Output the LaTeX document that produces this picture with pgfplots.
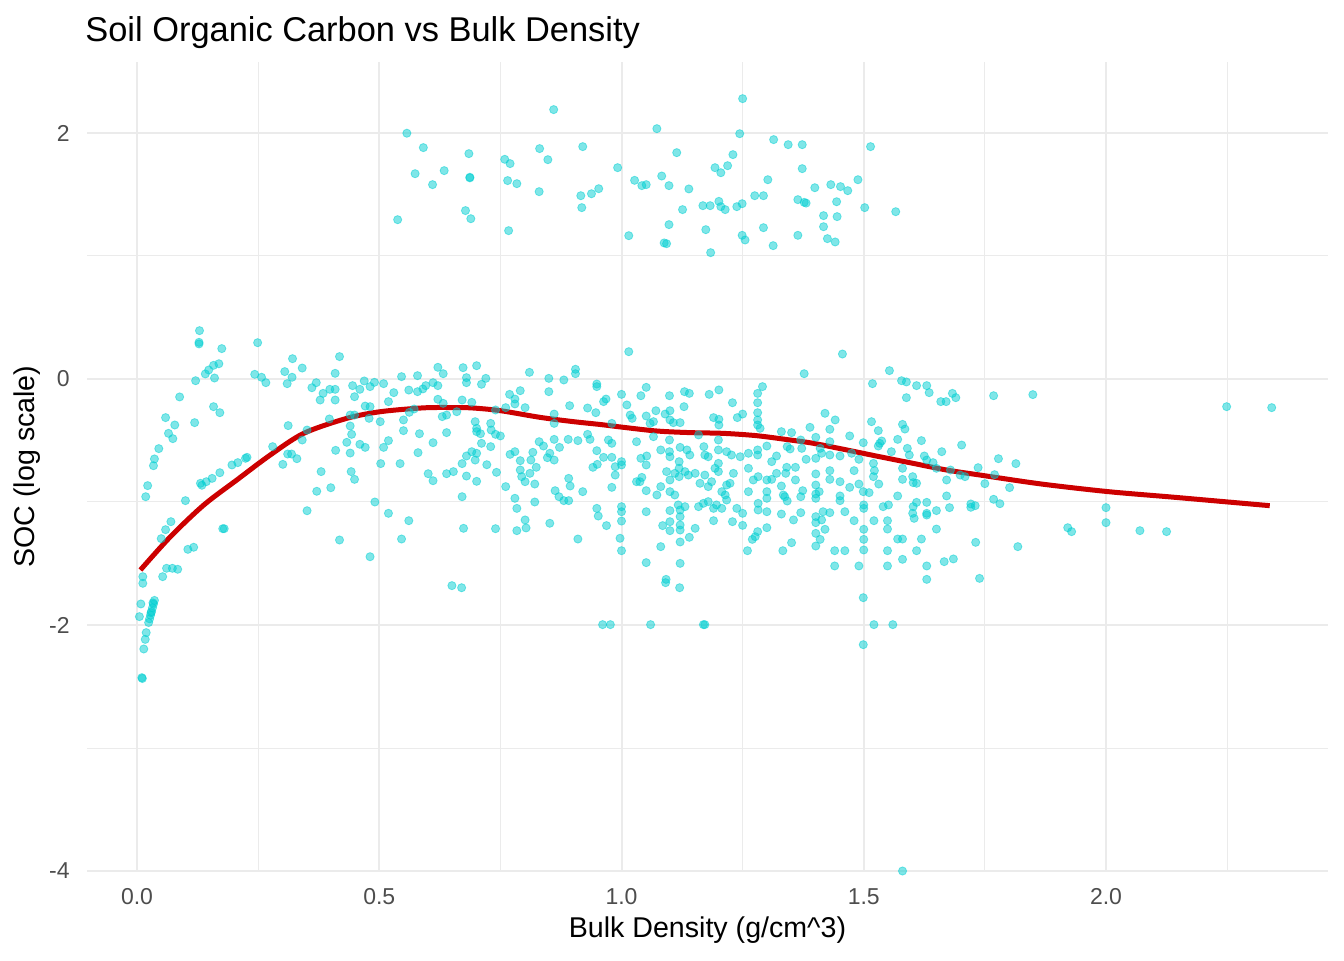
\documentclass[border=0pt]{standalone}
\usepackage{fontspec}
\setmainfont{Liberation Sans}
\usepackage{pgfplots}
\usepackage{pgfplotstable}
\pgfplotsset{compat=1.18}
\definecolor{ptcol}{HTML}{00CED1}
\definecolor{fitcol}{HTML}{CC0000}
\definecolor{gridcol}{HTML}{EBEBEB}
\definecolor{tickcol}{HTML}{4D4D4D}

\pgfplotstableread{
x y
0.557 1.998
0.591 1.881
0.574 1.669
0.610 1.580
0.634 1.694
0.685 1.832
0.687 1.640
0.687 1.635
0.678 1.369
0.689 1.303
0.538 1.295
0.759 1.786
0.770 1.751
0.765 1.613
0.784 1.588
0.767 1.206
0.831 1.873
0.848 1.783
0.830 1.523
0.860 2.190
0.920 1.889
0.916 1.490
0.918 1.393
0.938 1.506
0.953 1.547
0.992 1.718
1.027 1.615
1.042 1.572
1.051 1.580
1.015 1.165
1.073 2.035
1.114 1.840
1.083 1.650
1.098 1.572
1.139 1.545
1.126 1.377
1.098 1.255
1.088 1.106
1.093 1.100
1.168 1.409
1.183 1.409
1.174 1.214
1.184 1.027
1.201 1.444
1.205 1.401
1.214 1.377
1.193 1.718
1.205 1.677
1.219 1.734
1.230 1.824
1.244 1.994
1.250 2.279
1.238 1.401
1.249 1.425
1.249 1.168
1.255 1.130
1.275 1.490
1.293 1.490
1.302 1.620
1.293 1.230
1.313 1.084
1.314 1.946
1.344 1.905
1.373 1.905
1.373 1.710
1.364 1.458
1.377 1.436
1.381 1.430
1.364 1.168
1.399 1.555
1.417 1.328
1.417 1.238
1.425 1.141
1.441 1.114
1.444 1.441
1.445 1.320
1.432 1.580
1.452 1.564
1.467 1.531
1.488 1.620
1.502 1.393
1.514 1.889
1.566 1.360
0.129 0.393
0.128 0.298
0.128 0.285
0.175 0.247
0.169 0.124
0.158 0.111
0.148 0.073
0.141 0.041
0.160 0.008
0.121 -0.014
0.088 -0.146
0.158 -0.225
0.171 -0.274
0.059 -0.314
0.078 -0.374
0.119 -0.355
0.065 -0.442
0.074 -0.485
0.045 -0.566
0.036 -0.650
0.034 -0.705
0.022 -0.867
0.018 -0.957
0.100 -0.989
0.131 -0.848
0.134 -0.864
0.143 -0.835
0.155 -0.808
0.171 -0.762
0.196 -0.699
0.208 -0.680
0.224 -0.645
0.227 -0.637
0.070 -1.160
0.059 -1.225
0.050 -1.298
0.105 -1.385
0.117 -1.368
0.177 -1.217
0.180 -1.217
0.061 -1.539
0.073 -1.539
0.084 -1.547
0.053 -1.607
0.012 -1.607
0.012 -1.661
0.008 -1.829
0.005 -1.932
0.036 -1.80
0.034 -1.83
0.032 -1.86
0.030 -1.89
0.028 -1.92
0.026 -1.95
0.024 -1.98
0.033 -1.82
0.029 -1.90
0.019 -2.062
0.017 -2.117
0.014 -2.195
0.010 -2.428
0.011 -2.435
0.249 0.295
0.243 0.038
0.257 0.014
0.266 -0.030
0.312 -0.379
0.280 -0.550
0.301 -0.694
0.311 -0.610
0.319 -0.610
0.330 -0.648
0.351 -1.071
0.321 0.165
0.341 0.089
0.305 0.060
0.320 0.014
0.310 -0.038
0.418 0.182
0.370 -0.030
0.361 -0.071
0.378 -0.171
0.384 -0.117
0.398 -0.084
0.409 -0.084
0.409 -0.171
0.409 0.046
0.397 -0.325
0.351 -0.415
0.341 -0.496
0.410 -0.580
0.380 -0.753
0.371 -0.913
0.400 -0.884
0.418 -1.309
0.621 0.095
0.632 0.043
0.673 0.092
0.701 0.108
0.680 0.011
0.680 -0.030
0.720 0.005
0.711 -0.043
0.810 0.054
0.850 0.005
0.850 -0.103
0.881 -0.008
0.905 0.079
0.905 0.043
0.949 -0.041
0.949 -0.062
0.445 -0.054
0.460 -0.084
0.469 -0.016
0.481 -0.062
0.490 -0.027
0.509 -0.038
0.449 -0.144
0.530 -0.111
0.546 0.019
0.579 0.027
0.561 -0.090
0.579 -0.103
0.590 -0.081
0.596 -0.054
0.611 -0.030
0.621 -0.054
0.519 -0.184
0.471 -0.220
0.481 -0.225
0.621 -0.165
0.632 -0.198
0.671 -0.171
0.691 -0.190
0.769 -0.125
0.791 -0.095
0.780 -0.163
0.780 -0.203
0.801 -0.233
0.761 -0.233
0.893 -0.217
0.930 -0.236
0.947 -0.274
0.440 -0.293
0.449 -0.293
0.440 -0.382
0.443 -0.450
0.479 -0.320
0.502 -0.347
0.550 -0.333
0.562 -0.271
0.572 -0.244
0.630 -0.306
0.639 -0.293
0.660 -0.266
0.698 -0.347
0.701 -0.401
0.730 -0.361
0.740 -0.252
0.861 -0.285
0.861 -0.361
0.433 -0.515
0.460 -0.531
0.471 -0.556
0.440 -0.602
0.509 -0.556
0.519 -0.501
0.550 -0.420
0.583 -0.445
0.611 -0.518
0.639 -0.436
0.701 -0.428
0.709 -0.445
0.731 -0.415
0.740 -0.450
0.750 -0.463
0.711 -0.523
0.730 -0.550
0.503 -0.688
0.543 -0.688
0.580 -0.599
0.442 -0.753
0.449 -0.816
0.601 -0.770
0.611 -0.827
0.639 -0.770
0.653 -0.753
0.671 -0.688
0.680 -0.626
0.691 -0.591
0.701 -0.604
0.698 -0.659
0.722 -0.697
0.742 -0.759
0.680 -0.789
0.701 -0.832
0.770 -0.613
0.780 -0.591
0.791 -0.664
0.791 -0.740
0.794 -0.794
0.801 -0.835
0.811 -0.767
0.817 -0.596
0.813 -0.659
0.824 -0.718
0.821 -0.854
0.830 -0.510
0.839 -0.545
0.861 -0.491
0.872 -0.556
0.890 -0.491
0.910 -0.501
0.852 -0.604
0.847 -0.640
0.861 -0.659
0.930 -0.450
0.935 -0.491
0.949 -0.583
0.941 -0.718
0.950 -0.694
0.761 -0.875
0.780 -0.970
0.784 -1.052
0.821 -1.000
0.863 -0.908
0.871 -0.957
0.881 -0.989
0.891 -0.989
0.891 -0.808
0.894 -0.870
0.920 -0.916
0.949 -1.052
0.952 -1.114
0.491 -1.000
0.519 -1.092
0.561 -1.152
0.546 -1.301
0.481 -1.445
0.671 -0.957
0.674 -1.214
0.740 -1.217
0.784 -1.233
0.801 -1.146
0.803 -1.211
0.852 -1.173
0.910 -1.301
1.015 0.222
1.000 -0.125
1.051 -0.068
1.040 -0.136
1.099 -0.136
1.130 -0.103
1.140 -0.117
1.181 -0.125
1.201 -0.089
1.229 -0.193
1.281 -0.117
1.291 -0.062
1.281 -0.193
0.963 -0.184
0.968 -0.163
1.011 -0.211
1.018 -0.293
1.022 -0.320
1.051 -0.301
1.071 -0.258
1.059 -0.361
1.066 -0.347
1.090 -0.285
1.100 -0.258
1.100 -0.333
1.107 -0.355
1.121 -0.355
1.129 -0.225
1.190 -0.314
1.201 -0.328
1.201 -0.374
1.239 -0.314
1.250 -0.285
1.281 -0.274
1.281 -0.333
1.281 -0.374
1.286 -0.401
0.980 -0.361
0.973 -0.496
0.980 -0.523
0.963 -0.637
0.980 -0.637
1.031 -0.510
1.066 -0.469
1.081 -0.577
1.099 -0.496
1.100 -0.632
1.099 -0.591
1.121 -0.556
1.135 -0.577
1.141 -0.618
1.159 -0.455
1.170 -0.550
1.172 -0.618
1.179 -0.632
1.200 -0.496
1.200 -0.577
1.217 -0.591
1.227 -0.618
1.245 -0.632
1.262 -0.604
1.281 -0.577
1.281 -0.618
1.300 -0.545
1.320 -0.626
1.310 -0.672
1.000 -0.672
0.987 -0.781
1.000 -0.699
0.987 -0.713
1.040 -0.645
1.052 -0.626
1.051 -0.699
1.031 -0.835
1.038 -0.835
1.042 -0.800
0.980 -0.881
1.051 -0.908
1.073 -0.943
1.081 -0.875
1.093 -0.753
1.100 -0.821
1.100 -0.916
1.110 -0.767
1.119 -0.672
1.119 -0.726
1.119 -0.794
1.131 -0.753
1.138 -0.781
1.152 -0.767
1.162 -0.848
1.172 -0.781
1.179 -0.875
1.186 -0.835
1.193 -0.726
1.200 -0.686
1.200 -0.753
1.207 -0.916
1.214 -0.943
1.217 -0.862
1.224 -0.848
1.231 -0.767
1.110 -0.943
1.117 -1.024
1.121 -1.065
1.131 -1.038
1.159 -1.038
1.169 -1.011
1.179 -0.997
1.190 -1.052
1.196 -1.024
1.207 -1.052
1.217 -0.984
1.238 -1.052
1.250 -1.092
1.262 -0.726
1.272 -0.821
1.262 -0.916
1.282 -0.794
1.300 -0.821
1.310 -0.816
1.300 -0.916
1.300 -0.970
1.282 -1.011
1.282 -1.065
1.300 -1.079
1.320 -0.767
1.334 -0.943
1.000 -1.038
1.000 -1.079
1.000 -1.155
0.969 -1.192
1.051 -1.079
1.100 -1.070
1.100 -1.160
1.100 -1.233
1.085 -1.192
1.121 -1.119
1.121 -1.187
1.121 -1.228
1.140 -1.287
1.152 -1.214
1.121 -1.325
1.081 -1.363
0.997 -1.295
1.000 -1.396
1.051 -1.493
1.121 -1.499
1.092 -1.629
1.190 -1.152
1.229 -1.160
1.250 -1.190
1.300 -1.209
1.281 -1.241
1.276 -1.282
1.270 -1.304
1.260 -1.396
1.456 0.203
1.377 0.043
1.553 0.068
1.518 -0.038
1.578 -0.014
1.588 -0.024
1.609 -0.054
1.630 -0.054
1.635 -0.111
1.588 -0.152
1.659 -0.184
1.670 -0.184
1.683 -0.117
1.690 -0.152
1.420 -0.279
1.441 -0.333
1.430 -0.409
1.389 -0.393
1.330 -0.428
1.351 -0.436
1.516 -0.347
1.530 -0.420
1.580 -0.369
1.585 -0.407
1.471 -0.463
1.401 -0.474
1.342 -0.550
1.348 -0.569
1.370 -0.496
1.372 -0.564
1.430 -0.510
1.410 -0.564
1.413 -0.604
1.499 -0.518
1.533 -0.523
1.537 -0.504
1.530 -0.545
1.570 -0.491
1.619 -0.501
1.661 -0.591
1.702 -0.537
1.557 -0.591
1.590 -0.564
1.594 -0.618
1.625 -0.626
1.630 -0.659
1.643 -0.680
1.650 -0.726
1.679 -0.740
1.699 -0.781
1.709 -0.794
1.736 -0.721
1.381 -0.653
1.401 -0.645
1.430 -0.618
1.451 -0.626
1.475 -0.604
1.490 -0.653
1.341 -0.718
1.359 -0.718
1.339 -0.767
1.401 -0.772
1.430 -0.745
1.430 -0.816
1.480 -0.745
1.520 -0.686
1.522 -0.745
1.520 -0.794
1.580 -0.726
1.580 -0.816
1.601 -0.794
1.602 -0.843
1.609 -0.848
1.671 -0.821
1.330 -0.870
1.359 -0.821
1.401 -0.862
1.401 -0.935
1.408 -0.916
1.451 -0.835
1.451 -0.951
1.451 -0.989
1.471 -0.881
1.490 -0.854
1.499 -0.916
1.511 -0.924
1.531 -0.854
1.337 -0.957
1.342 -0.992
1.370 -0.957
1.374 -0.908
1.401 -0.970
1.570 -0.951
1.630 -1.003
1.609 -1.003
1.602 -1.038
1.671 -0.951
1.677 -1.046
1.721 -1.016
1.721 -1.043
1.500 -1.024
1.500 -1.052
1.540 -1.038
1.551 -1.024
1.601 -1.092
1.604 -1.133
1.630 -1.092
1.630 -1.106
1.650 -1.070
1.330 -1.098
1.370 -1.087
1.355 -1.146
1.401 -1.119
1.401 -1.168
1.401 -1.255
1.416 -1.079
1.430 -1.087
1.413 -1.146
1.420 -1.222
1.410 -1.304
1.401 -1.358
1.461 -1.079
1.480 -1.152
1.500 -1.222
1.500 -1.304
1.500 -1.390
1.521 -1.152
1.549 -1.152
1.549 -1.220
1.549 -1.396
1.570 -1.301
1.580 -1.301
1.619 -1.301
1.650 -1.220
1.609 -1.396
1.580 -1.466
1.549 -1.520
1.630 -1.520
1.666 -1.485
1.685 -1.463
1.731 -1.328
1.630 -1.629
1.333 -1.396
1.351 -1.331
1.440 -1.396
1.461 -1.396
1.440 -1.520
1.490 -1.520
1.768 -0.136
1.849 -0.127
2.249 -0.225
2.342 -0.233
1.778 -0.648
1.814 -0.688
1.770 -0.778
1.750 -0.851
1.801 -0.883
1.768 -0.978
1.781 -1.014
1.730 -1.030
1.921 -1.209
1.929 -1.241
2.000 -1.046
2.000 -1.168
2.070 -1.233
2.125 -1.241
1.818 -1.363
1.739 -1.621
0.650 -1.680
0.670 -1.697
0.961 -1.997
0.977 -1.997
1.060 -1.997
1.091 -1.656
1.120 -1.697
1.169 -1.997
1.172 -1.997
1.499 -1.778
1.499 -2.160
1.521 -1.997
1.560 -1.997
1.580 -4.000
}\soc

\pgfplotstableread{
x y
0.007 -1.553
0.069 -1.282
0.138 -1.024
0.206 -0.821
0.275 -0.618
0.344 -0.442
0.433 -0.320
0.502 -0.266
0.590 -0.235
0.650 -0.232
0.690 -0.235
0.749 -0.257
0.832 -0.312
0.901 -0.347
0.956 -0.370
1.004 -0.393
1.073 -0.423
1.141 -0.436
1.210 -0.442
1.279 -0.461
1.348 -0.496
1.396 -0.523
1.465 -0.577
1.533 -0.632
1.602 -0.686
1.671 -0.740
1.740 -0.781
1.867 -0.854
2.005 -0.916
2.142 -0.962
2.338 -1.030
}\fit

\begin{document}
\begin{tikzpicture}
\useasboundingbox (-43.5pt,-44.5pt) rectangle (628.5pt,435.5pt);
\begin{axis}[
  at={(0,0)}, anchor=south west,
  scale only axis, width=620.5pt, height=404.5pt,
  xmin=-0.1032, xmax=2.4582, ymin=-4, ymax=2.577,
  axis line style={draw=none},
  major tick length=0pt, minor tick length=0pt,
  xtick={0,0.5,1,1.5,2}, xticklabels={0.0,0.5,1.0,1.5,2.0},
  ytick={-4,-2,0,2}, yticklabels={-4,-2,0,2},
  minor xtick={0.25,0.75,1.25,1.75,2.25},
  minor ytick={-3,-1,1},
  grid=both,
  major grid style={draw=gridcol, line width=1pt},
  minor grid style={draw=gridcol, line width=0.5pt},
  ticklabel style={font=\fontsize{11.5}{13}\selectfont, text=tickcol, inner sep=0pt},
  xticklabel style={anchor=center, yshift=-13pt},
  yticklabel style={anchor=east, xshift=-8.5pt},
  xlabel={Bulk Density (g/cm\^{}3)},
  ylabel={SOC (log scale)},
  label style={font=\fontsize{14.3}{17}\selectfont, inner sep=0pt},
  xlabel style={at={(axis description cs:0.5,-0.0729)}, anchor=center},
  ylabel style={at={(axis description cs:-0.0483,0.5)}, anchor=center, rotate=0},
  title={Soil Organic Carbon vs Bulk Density},
  title style={at={(axis description cs:-0.0016,1.0111)}, anchor=base west,
    font=\fontsize{17.2}{20}\selectfont, inner sep=0pt},
]
\addplot[only marks, mark=*, mark size=2.05pt,
  mark options={draw=ptcol, fill=ptcol, opacity=0.5, line width=0.4pt}]
  table[x=x, y=y] {\soc};
\addplot[fitcol, line width=2.5pt, smooth] table[x=x, y=y] {\fit};
\end{axis}
\end{tikzpicture}
\end{document}
